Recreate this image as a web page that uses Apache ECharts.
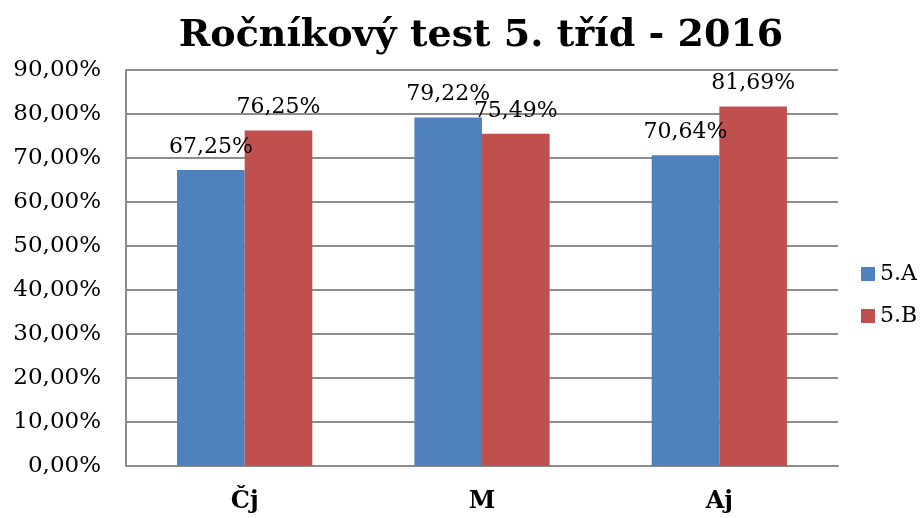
<!DOCTYPE html>
<html>
<head>
<meta charset="utf-8">
<script src="https://cdn.jsdelivr.net/npm/echarts@6/dist/echarts.min.js"></script>
<style>
  html, body { margin: 0; padding: 0; background: #fff; }
  #chart { width: 922px; height: 518px; }
</style>
</head>
<body>
<div id="chart"></div>
<script>
// data
var categories = ['Čj', 'M', 'Aj'];
var classA = [67.25, 79.22, 70.64];
var classB = [76.25, 75.49, 81.69];

var font = 'DejaVu Serif';
var fmt = function (v) { return v.toFixed(2).replace('.', ',') + '%'; };

var myChart = echarts.init(document.getElementById('chart'));
var option = {
  backgroundColor: '#fff',
  title: {
    text: 'Ročníkový test 5. tříd - 2016',
    left: 476,
    textAlign: 'center',
    top: 12,
    textStyle: { fontFamily: font, fontWeight: 'bold', fontSize: 38, color: '#000' }
  },
  legend: {
    orient: 'vertical',
    left: 856,
    top: 258,
    itemWidth: 14,
    itemHeight: 14,
    itemGap: 20,
    icon: 'rect',
    textStyle: { fontFamily: font, fontSize: 22, color: '#000' },
    data: ['5.A', '5.B']
  },
  grid: { left: 126, right: 84, top: 70, bottom: 52 },
  xAxis: {
    type: 'category',
    data: categories,
    axisTick: { show: false },
    axisLine: { lineStyle: { color: '#8c8c8c', width: 2 } },
    axisLabel: { fontFamily: font, fontWeight: 'bold', fontSize: 24, color: '#000', margin: 24 }
  },
  yAxis: {
    type: 'value',
    min: 0,
    max: 90,
    interval: 10,
    axisLine: { show: true, lineStyle: { color: '#8c8c8c', width: 2 } },
    axisTick: { show: false },
    splitLine: { lineStyle: { color: '#8c8c8c', width: 2 } },
    axisLabel: {
      fontFamily: font, fontSize: 23, color: '#000', margin: 25,
      formatter: function (v) { return fmt(v); }
    }
  },
  series: [
    {
      name: '5.A',
      type: 'bar',
      data: classA,
      barGap: '0%',
      barCategoryGap: '43%',
      itemStyle: { color: '#4f81bd' },
      label: {
        show: true, position: 'top', distance: 12,
        fontFamily: font, fontSize: 22, color: '#000',
        formatter: function (p) { return fmt(p.value); }
      }
    },
    {
      name: '5.B',
      type: 'bar',
      data: classB,
      itemStyle: { color: '#c0504d' },
      label: {
        show: true, position: 'top', distance: 12,
        fontFamily: font, fontSize: 22, color: '#000',
        formatter: function (p) { return fmt(p.value); }
      }
    }
  ]
};
option && myChart.setOption(option);
</script>
</body>
</html>
